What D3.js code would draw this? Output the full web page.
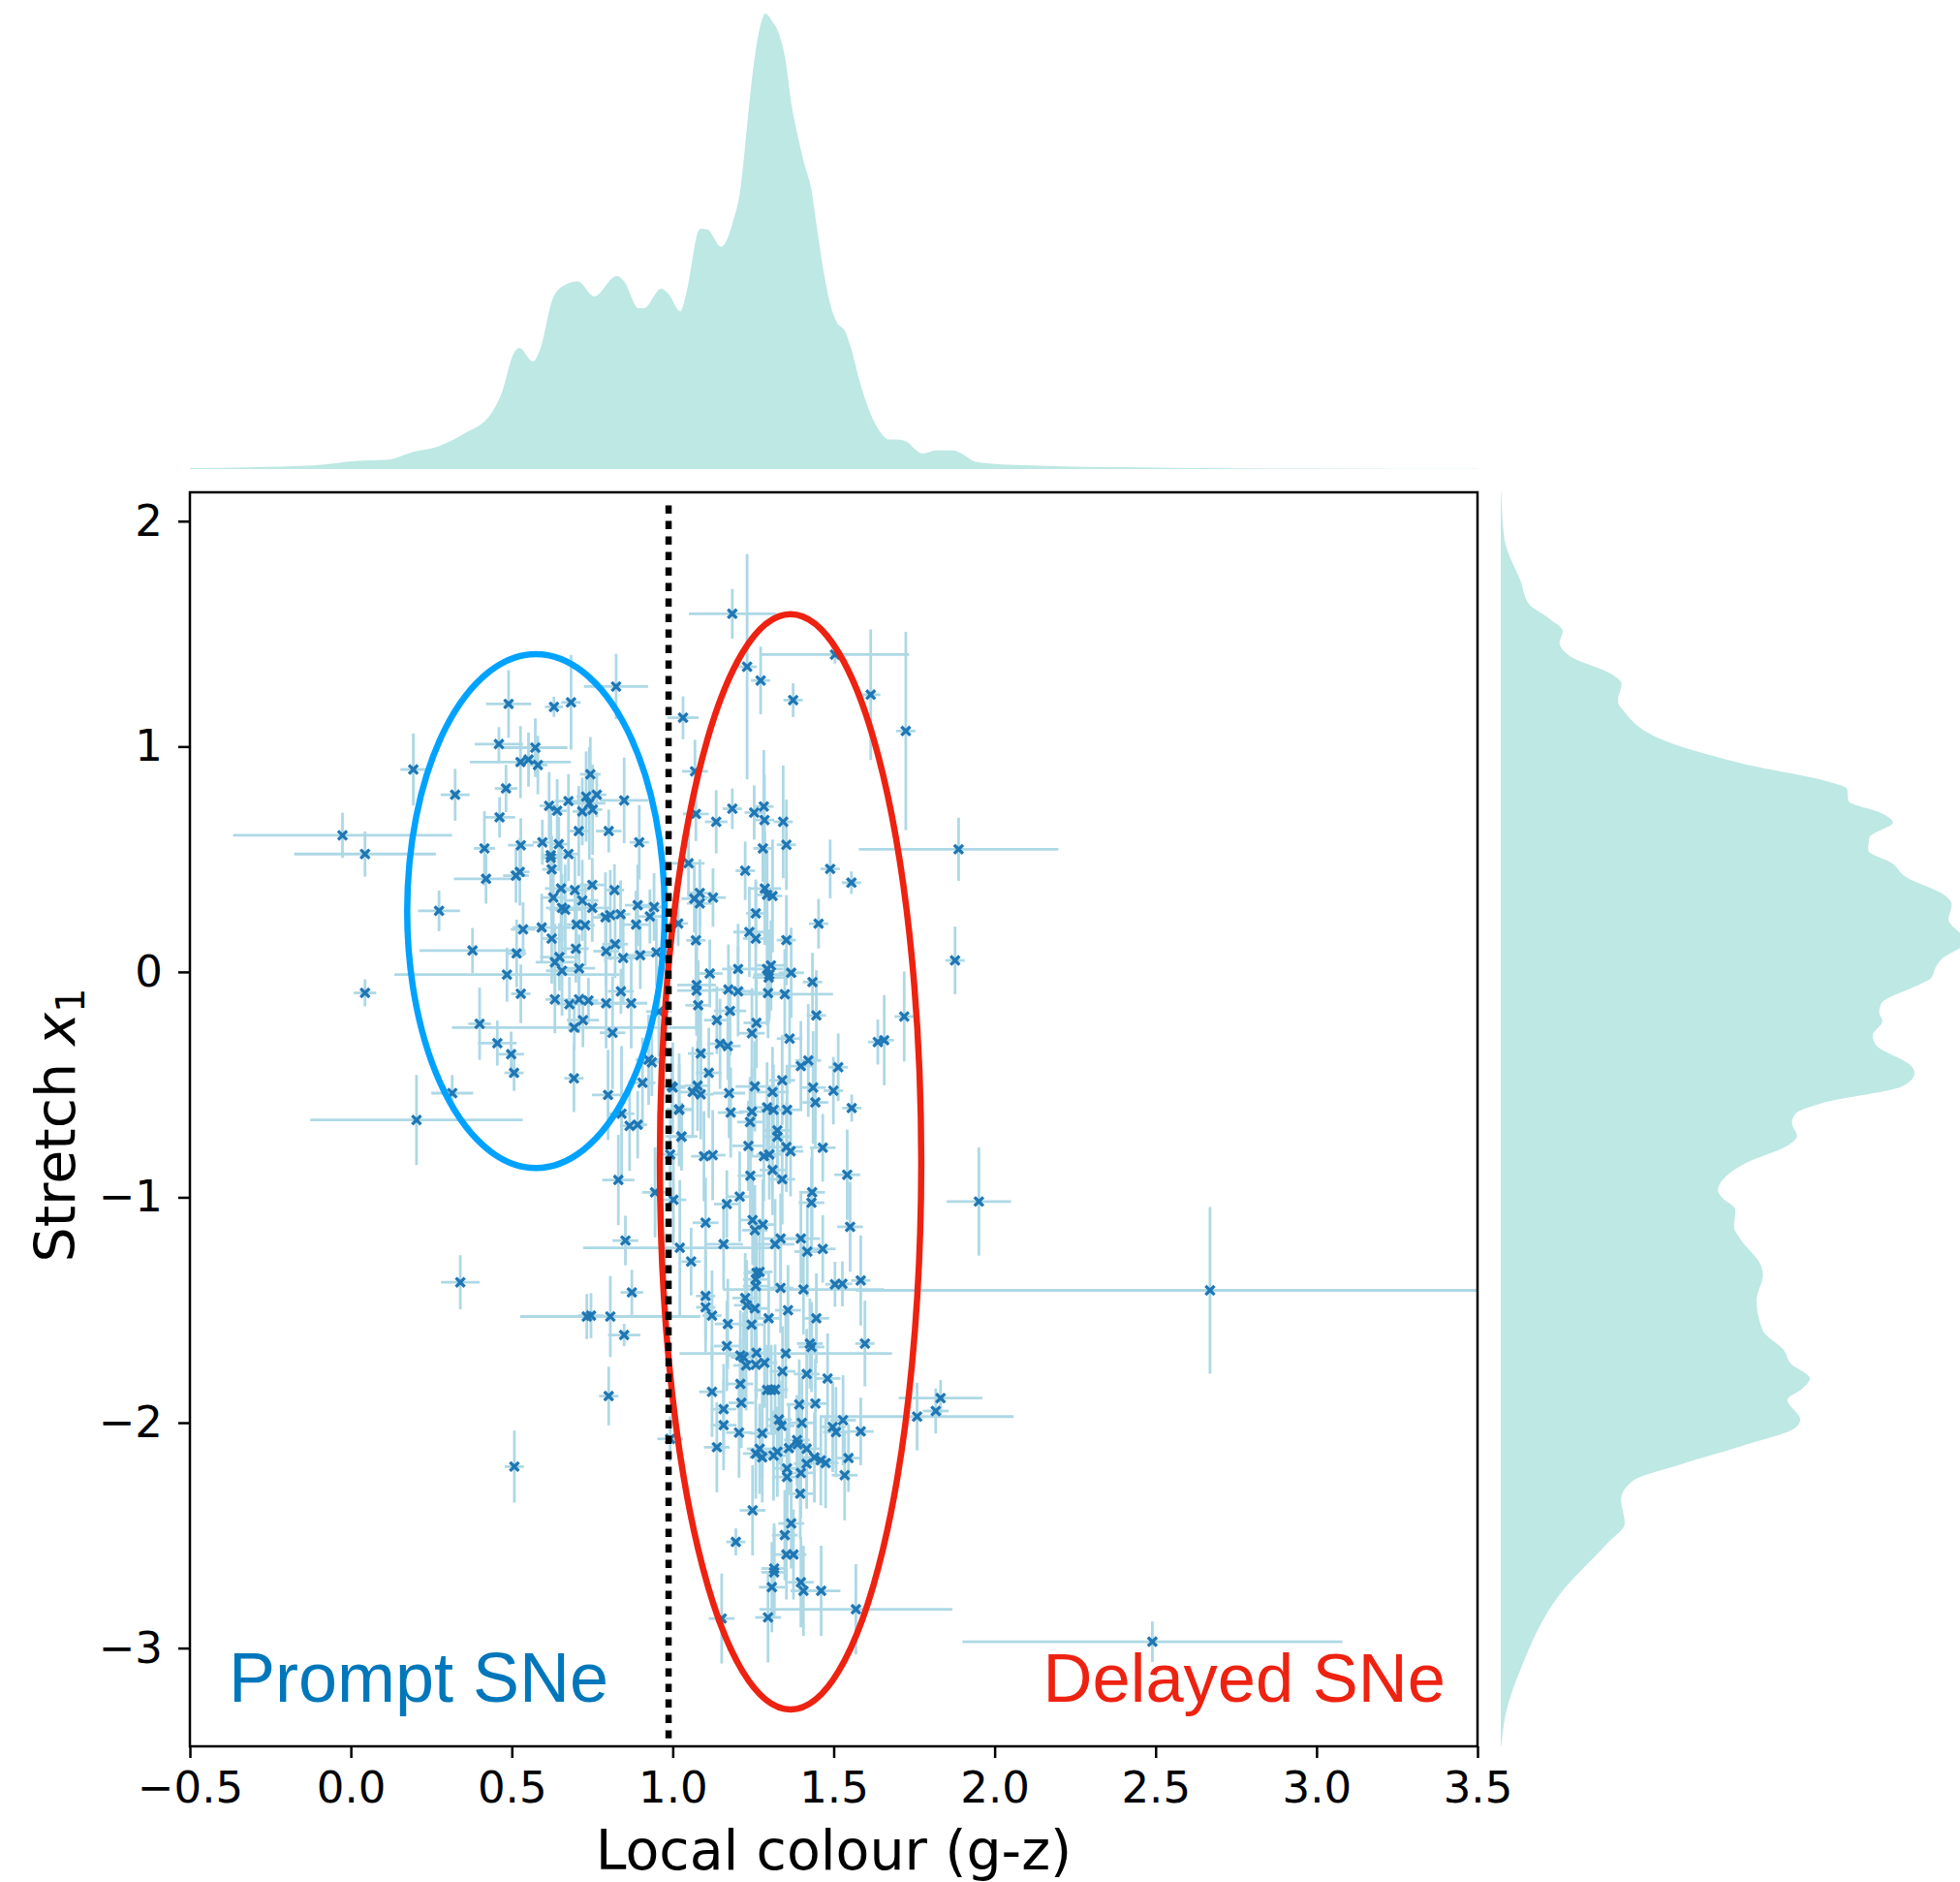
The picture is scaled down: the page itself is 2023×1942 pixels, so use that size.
<!DOCTYPE html>
<html>
<head>
<meta charset="utf-8">
<script src="https://cdn.jsdelivr.net/npm/d3@7"></script>
<style>
  html, body { margin: 0; padding: 0; background: #ffffff; }
  svg { display: block; }
</style>
</head>
<body>
<svg id="chart" width="2023" height="1942"></svg>
<script>
// ---------------- data ----------------
// each point: [local colour, colour error, stretch x1, stretch error]
const pointsPromptRegion = [
  [0.824,0.10,1.266,0.145],[0.490,0.07,1.189,0.15],[0.631,0.028,1.176,0.045],[0.684,0.03,1.196,0.21],
  [0.460,0.075,1.011,0.075],[0.573,0.10,0.995,0.13],[0.527,0.157,0.931,0.16],[0.552,0.03,0.942,0.12],
  [0.581,0.03,0.918,0.13],[0.194,0.04,0.898,0.16],[0.324,0.045,0.786,0.115],[0.482,0.035,0.814,0.105],
  [0.462,0.048,0.686,0.09],[0.744,0.032,0.877,0.165],[0.616,0.03,0.737,0.15],[0.641,0.03,0.715,0.14],
  [0.676,0.043,0.758,0.12],[0.731,0.03,0.778,0.2],[0.764,0.03,0.786,0.1],[0.741,0.05,0.748,0.25],
  [0.751,0.03,0.720,0.2],[0.719,0.03,0.712,0.15],[0.849,0.075,0.761,0.19],[0.708,0.03,0.625,0.2],
  [0.801,0.04,0.625,0.095],[0.896,0.03,0.575,0.165],[0.415,0.033,0.548,0.165],[0.528,0.04,0.562,0.12],
  [0.595,0.03,0.575,0.1],[0.646,0.03,0.567,0.12],[0.621,0.03,0.518,0.15],[0.621,0.03,0.506,0.2],
  [0.676,0.03,0.523,0.12],[0.624,0.03,0.455,0.15],[0.420,0.10,0.413,0.11],[0.513,0.04,0.427,0.12],
  [0.525,0.03,0.444,0.15],[0.653,0.05,0.370,0.18],[0.696,0.04,0.363,0.15],[0.629,0.04,0.330,0.16],
  [0.719,0.05,0.317,0.18],[0.750,0.04,0.386,0.12],[0.819,0.03,0.363,0.115],[0.274,0.065,0.271,0.09],
  [0.656,0.05,0.284,0.15],[0.666,0.05,0.276,0.2],[0.750,0.06,0.284,0.15],[0.791,0.04,0.242,0.2],
  [0.806,0.04,0.252,0.2],[0.838,0.03,0.256,0.15],[0.891,0.04,0.296,0.18],[0.942,0.04,0.288,0.15],
  [0.929,0.04,0.246,0.12],[0.886,0.04,0.210,0.15],[0.535,0.038,0.189,0.12],[0.593,0.09,0.197,0.15],
  [0.701,0.03,0.210,0.15],[0.728,0.03,0.207,0.18],[0.624,0.03,0.148,0.2],[0.378,0.165,0.095,0.1],
  [0.515,0.03,0.082,0.15],[0.699,0.04,0.103,0.15],[0.793,0.04,0.092,0.15],[0.821,0.04,0.123,0.15],
  [0.648,0.06,0.066,0.15],[0.634,0.06,0.043,0.17],[0.846,0.05,0.062,0.2],[0.899,0.04,0.074,0.15],
  [0.949,0.05,0.087,0.15],[0.485,0.35,-0.012,0.12],[0.656,0.05,0.005,0.2],[0.709,0.05,0.016,0.15],
  [0.528,0.03,-0.097,0.13],[0.634,0.03,-0.122,0.15],[0.679,0.04,-0.143,0.12],[0.709,0.04,-0.122,0.15],
  [0.738,0.03,-0.127,0.1],[0.793,0.06,-0.139,0.2],[0.839,0.04,-0.086,0.1],[0.871,0.05,-0.139,0.2],
  [0.400,0.035,-0.230,0.16],[0.721,0.05,-0.214,0.12],[0.694,0.38,-0.247,0.1],[0.813,0.04,-0.270,0.25],
  [0.455,0.06,-0.316,0.1],[0.498,0.04,-0.365,0.1],[0.507,0.03,-0.448,0.08],[0.693,0.03,-0.472,0.15],
  [0.315,0.065,-0.538,0.08],[0.799,0.05,-0.546,0.2],[0.204,0.33,-0.657,0.2],[0.925,0.04,-0.390,0.2],
  [0.935,0.04,-0.401,0.15],[0.906,0.04,-0.492,0.2],[0.841,0.04,-0.629,0.3],[0.866,0.03,-0.683,0.2],
  [0.891,0.03,-0.678,0.15],[0.957,0.04,-0.176,0.2],[1.000,0.04,-0.513,0.2],[1.020,0.04,-0.612,0.25],
  [1.027,0.05,-0.730,0.15],[0.992,0.04,-0.810,0.2],
  [-0.026,0.34,0.606,0.1],[0.044,0.22,0.523,0.1],[0.044,0.035,-0.093,0.06]
];
const pointsUpperDelayed = [
  [1.032,0.048,1.128,0.095],
  [1.185,0.135,1.589,0.11],[1.231,0.03,1.354,0.5],[1.504,0.23,1.408,0.04],[1.273,0.03,1.293,0.15],
  [1.374,0.03,1.206,0.075],[1.615,0.03,1.230,0.29],[1.724,0.03,1.069,0.44],[1.069,0.04,0.890,0.14],
  [1.072,0.04,0.701,0.12],[1.135,0.035,0.666,0.14],[1.185,0.03,0.724,0.09],[1.253,0.03,0.707,0.12],
  [1.283,0.03,0.734,0.25],[1.285,0.03,0.674,0.2],[1.343,0.03,0.666,0.25],[1.353,0.03,0.564,0.2],
  [1.280,0.03,0.548,0.15],[1.049,0.05,0.482,0.15],[1.225,0.03,0.449,0.13],[1.489,0.03,0.457,0.13],
  [1.555,0.03,0.396,0.05],[1.888,0.31,0.544,0.14],[1.286,0.05,0.370,0.25],[1.293,0.03,0.342,0.2],
  [1.310,0.03,0.337,0.25],[1.084,0.04,0.350,0.15],[1.067,0.04,0.325,0.15],[1.084,0.04,0.304,0.15],
  [1.125,0.04,0.330,0.13],[1.258,0.03,0.260,0.15],[1.453,0.03,0.214,0.11],[1.017,0.03,0.215,0.1],
  [1.238,0.05,0.177,0.2],[1.258,0.04,0.148,0.25],[1.072,0.03,0.140,0.2],[1.353,0.03,0.141,0.2],
  [1.877,0.03,0.051,0.15],[1.203,0.05,0.013,0.2],[1.115,0.04,-0.007,0.15],[1.293,0.05,0.013,0.25],
  [1.300,0.05,-0.012,0.2],[1.305,0.05,0.029,0.2],[1.298,0.05,-0.025,0.2],[1.368,0.04,-0.004,0.2],
  [1.074,0.06,-0.058,0.2],[1.074,0.06,-0.083,0.2],[1.173,0.05,-0.078,0.2],[1.203,0.05,-0.086,0.2],
  [1.296,0.06,-0.094,0.2],[1.348,0.15,-0.099,0.2],[1.434,0.03,-0.045,0.13],[1.079,0.04,-0.148,0.2],
  [1.178,0.05,-0.173,0.2],[1.446,0.03,-0.193,0.2],[1.719,0.03,-0.198,0.2],[1.137,0.04,-0.214,0.15],
  [1.260,0.04,-0.226,0.2],[1.246,0.04,-0.272,0.2],[1.363,0.04,-0.296,0.2],[1.637,0.03,-0.311,0.1],
  [1.657,0.03,-0.303,0.2],[1.147,0.04,-0.319,0.2],[1.171,0.04,-0.329,0.15],[1.087,0.04,-0.362,0.2],
  [1.398,0.04,-0.418,0.2],[1.421,0.04,-0.393,0.25],[1.514,0.03,-0.423,0.15],[1.112,0.04,-0.448,0.2],
  [1.340,0.04,-0.481,0.2],[0.997,0.04,-0.508,0.15],[1.077,0.04,-0.505,0.2],[1.062,0.04,-0.533,0.2],
  [1.087,0.04,-0.543,0.2],[1.175,0.05,-0.538,0.2],[1.255,0.06,-0.508,0.2],[1.310,0.05,-0.533,0.2],
  [1.436,0.04,-0.513,0.25],[1.499,0.03,-0.527,0.15],[1.443,0.04,-0.579,0.2],[1.556,0.03,-0.604,0.06],
  [1.020,0.04,-0.609,0.2],[1.180,0.04,-0.624,0.2],[1.246,0.04,-0.620,0.2],[1.293,0.04,-0.601,0.2],
  [1.313,0.04,-0.612,0.2],[1.355,0.04,-0.612,0.2],[1.240,0.04,-0.666,0.2],[1.027,0.04,-0.731,0.15],
  [1.325,0.04,-0.703,0.2],[1.325,0.04,-0.731,0.2],[1.235,0.05,-0.772,0.2],[1.353,0.05,-0.777,0.2],
  [1.366,0.04,-0.796,0.2],[1.466,0.04,-0.780,0.15],[1.097,0.04,-0.818,0.2],[1.124,0.04,-0.813,0.2],
  [1.283,0.04,-0.818,0.2],[1.300,0.04,-0.810,0.2]
];
const pointsLowerLeft = [
  [0.831,0.05,-0.923,0.2],[0.945,0.04,-0.978,0.2],[1.002,0.04,-1.011,0.2],[0.853,0.04,-1.192,0.11],
  [1.022,0.30,-1.224,0.3],[0.340,0.06,-1.377,0.12],[0.873,0.035,-1.422,0.1],[0.733,0.08,-1.529,0.1],
  [0.746,0.04,-1.525,0.1],[0.806,0.28,-1.529,0.18],[0.849,0.05,-1.611,0.05],[0.801,0.03,-1.882,0.13],
  [0.508,0.03,-2.195,0.16],[0.992,0.04,-2.072,0.1]
];
const pointsLowerDelayed = [
  [1.542,0.04,-0.900,0.2],[1.241,0.04,-0.904,0.2],[1.310,0.04,-0.879,0.2],[1.340,0.04,-0.920,0.2],
  [1.208,0.04,-0.997,0.2],[1.168,0.04,-1.030,0.15],[1.433,0.04,-0.978,0.2],[1.431,0.04,-1.024,0.2],
  [1.102,0.04,-1.113,0.2],[1.248,0.04,-1.101,0.2],[1.255,0.04,-1.146,0.2],[1.280,0.04,-1.121,0.2],
  [1.551,0.04,-1.131,0.2],[1.158,0.06,-1.208,0.2],[1.318,0.06,-1.208,0.2],[1.335,0.06,-1.183,0.2],
  [1.398,0.06,-1.183,0.2],[1.418,0.04,-1.241,0.2],[1.466,0.04,-1.229,0.15],[1.057,0.03,-1.285,0.15],
  [1.260,0.04,-1.335,0.2],[1.270,0.04,-1.331,0.2],[1.258,0.04,-1.364,0.2],[1.258,0.04,-1.394,0.2],
  [1.504,0.03,-1.386,0.1],[1.527,0.03,-1.384,0.1],[1.584,0.03,-1.369,0.2],[1.335,0.04,-1.402,0.2],
  [1.406,0.25,-1.409,0.2],[1.102,0.03,-1.438,0.2],[1.102,0.03,-1.488,0.2],[1.225,0.04,-1.447,0.2],
  [1.230,0.04,-1.479,0.2],[1.255,0.04,-1.493,0.2],[1.122,0.03,-1.525,0.2],[1.298,0.04,-1.537,0.2],
  [1.358,0.04,-1.501,0.2],[1.446,0.04,-1.537,0.2],[1.171,0.04,-1.562,0.2],[1.245,0.04,-1.565,0.2],
  [1.168,0.04,-1.660,0.2],[1.426,0.04,-1.649,0.2],[1.431,0.04,-1.664,0.2],[1.597,0.03,-1.649,0.19],
  [1.210,0.04,-1.702,0.2],[1.220,0.04,-1.710,0.2],[1.228,0.04,-1.746,0.2],[1.260,0.04,-1.690,0.2],
  [1.258,0.04,-1.743,0.2],[1.285,0.04,-1.734,0.2],[1.351,0.33,-1.693,0.2],[1.341,0.04,-1.772,0.2],
  [1.416,0.04,-1.784,0.2],[1.481,0.04,-1.804,0.2],[1.122,0.04,-1.863,0.2],[1.210,0.04,-1.828,0.2],
  [1.293,0.04,-1.855,0.2],[1.306,0.04,-1.855,0.2],[1.318,0.04,-1.853,0.2],[1.213,0.04,-1.912,0.2],
  [1.393,0.04,-1.919,0.2],[1.443,0.04,-1.915,0.2],[1.832,0.13,-1.891,0.08],[1.817,0.04,-1.948,0.1],
  [1.759,0.30,-1.973,0.15],[1.158,0.04,-1.940,0.2],[1.158,0.04,-2.011,0.2],[1.206,0.04,-2.044,0.2],
  [1.278,0.04,-2.047,0.2],[1.330,0.04,-1.986,0.2],[1.338,0.04,-2.014,0.2],[1.401,0.04,-2.001,0.2],
  [1.529,0.04,-1.989,0.2],[1.497,0.04,-2.019,0.2],[1.507,0.04,-2.042,0.2],[1.584,0.04,-2.039,0.15],
  [1.137,0.04,-2.109,0.2],[1.258,0.04,-2.137,0.2],[1.270,0.04,-2.116,0.2],[1.278,0.04,-2.154,0.2],
  [1.313,0.04,-2.146,0.2],[1.325,0.04,-2.129,0.2],[1.361,0.04,-2.113,0.2],[1.386,0.04,-2.077,0.2],
  [1.388,0.04,-2.096,0.2],[1.416,0.04,-2.116,0.2],[1.416,0.04,-2.182,0.2],[1.440,0.04,-2.154,0.2],
  [1.460,0.04,-2.167,0.2],[1.475,0.04,-2.179,0.2],[1.546,0.04,-2.157,0.15],[1.534,0.04,-2.233,0.2],
  [1.355,0.04,-2.203,0.2],[1.355,0.04,-2.241,0.2],[1.398,0.04,-2.223,0.2],[1.396,0.04,-2.315,0.2],
  [1.248,0.04,-2.389,0.2],[1.368,0.04,-2.447,0.2],[1.348,0.04,-2.499,0.2],[1.196,0.03,-2.529,0.06],
  [1.353,0.04,-2.585,0.2],[1.375,0.04,-2.585,0.2],[1.315,0.04,-2.647,0.2],[1.315,0.04,-2.664,0.2],
  [1.308,0.04,-2.730,0.2],[1.398,0.04,-2.708,0.2],[1.406,0.04,-2.746,0.2],[1.461,0.06,-2.746,0.2],
  [1.569,0.30,-2.828,0.2],[1.296,0.04,-2.864,0.2],[1.152,0.04,-2.869,0.2]
];
const pointsRedOutliers = [
  [1.951,0.10,-1.019,0.24],[2.669,1.10,-1.413,0.37],[2.490,0.59,-2.972,0.09]
];

// marginal density of local colour (top panel): colour grid and relative density
const colourGrid = [-0.5,-0.116,0.022,0.108,0.195,0.264,0.350,0.437,0.471,0.506,0.523,0.566,0.589,0.627,0.653,
  0.705,0.756,0.826,0.848,0.894,0.910,0.964,0.986,1.024,1.040,1.085,1.107,1.150,1.170,1.186,1.211,1.223,
  1.249,1.271,1.288,1.308,1.330,1.349,1.370,1.390,1.409,1.430,1.447,1.470,1.490,1.511,1.534,1.551,1.586,
  1.620,1.646,1.672,1.698,1.729,1.750,1.776,1.819,1.871,1.897,1.940,1.974,2.161,2.380,3.0,3.5];
const colourDensity = [0.002,0.008,0.018,0.020,0.038,0.048,0.077,0.123,0.172,0.254,0.266,0.236,0.265,0.374,0.399,
  0.412,0.379,0.424,0.413,0.353,0.353,0.396,0.385,0.346,0.380,0.527,0.526,0.488,0.506,0.541,0.619,0.697,
  0.874,0.970,1.000,0.984,0.956,0.903,0.796,0.726,0.669,0.616,0.534,0.428,0.360,0.321,0.304,0.272,0.179,
  0.112,0.080,0.065,0.065,0.059,0.045,0.034,0.041,0.041,0.034,0.016,0.013,0.007,0.004,0.001,0.0005];

// marginal density of stretch (right panel)
const stretchGrid = [2.128,1.921,1.730,1.633,1.566,1.512,1.461,1.403,1.317,1.279,1.202,1.154,1.029,0.923,0.843,
  0.812,0.760,0.703,0.664,0.597,0.540,0.482,0.424,0.338,0.300,0.233,0.175,0.140,0.107,0.059,0.021,-0.027,
  -0.055,-0.142,-0.180,-0.219,-0.282,-0.324,-0.420,-0.449,-0.506,-0.583,-0.631,-0.670,-0.728,-0.767,-0.853,
  -0.969,-0.997,-1.055,-1.132,-1.180,-1.305,-1.343,-1.458,-1.592,-1.679,-1.736,-1.803,-1.852,-1.899,-1.986,
  -2.024,-2.101,-2.188,-2.255,-2.341,-2.447,-2.533,-2.763,-3.090,-3.281,-3.436];
const stretchDensity = [0.001,0.008,0.044,0.061,0.107,0.135,0.128,0.149,0.244,0.263,0.255,0.269,0.353,0.529,0.715,
  0.754,0.757,0.831,0.854,0.803,0.800,0.852,0.880,0.968,0.982,0.975,0.999,1.02,1.0,0.961,0.947,0.937,
  0.912,0.828,0.824,0.831,0.810,0.817,0.895,0.901,0.877,0.698,0.641,0.634,0.645,0.627,0.529,
  0.473,0.480,0.511,0.508,0.520,0.567,0.571,0.557,0.571,0.617,0.631,0.673,0.655,0.624,0.652,
  0.641,0.529,0.388,0.290,0.262,0.270,0.233,0.128,0.044,0.012,0.001];

const xTicks = [-0.5, 0.0, 0.5, 1.0, 1.5, 2.0, 2.5, 3.0, 3.5];
const yTicks = [-3, -2, -1, 0, 1, 2];

// region ellipses: [centre colour, centre stretch, half-width, half-height]
const promptEllipse = [0.575, 0.27, 0.400, 1.14];
const delayedEllipse = [1.366, -0.843, 0.406, 2.43];
const splitColour = 0.987;
const splitRange = [-3.40, 2.07];

// ---------------- drawing ----------------
const svg = d3.select("#chart");
const L = 196, R = 1525, T = 508, B = 1802;
const x = d3.scaleLinear().domain([-0.5, 3.5]).range([L, R]);
const y = d3.scaleLinear().domain([-3.436, 2.128]).range([B, T]);

const allPoints = [].concat(pointsPromptRegion, pointsUpperDelayed, pointsLowerLeft, pointsLowerDelayed, pointsRedOutliers)
  .map(p => ({c: p[0], ce: p[1], s: p[2], se: p[3]}));

// marginal top KDE
const topDen = d3.scaleLinear().domain([0, 1]).range([484, 14]);
const topData = colourGrid.map((g, i) => ({g, v: colourDensity[i]}));
svg.append("path")
  .datum(topData)
  .attr("fill", "#bde8e4")
  .attr("stroke", "none")
  .attr("d", d3.area().x(d => x(d.g)).y0(topDen(0)).y1(d => topDen(d.v)).curve(d3.curveMonotoneX));

// marginal right KDE
const rightDen = d3.scaleLinear().domain([0, 1]).range([1549, 2023]);
const rightData = stretchGrid.map((g, i) => ({g, v: stretchDensity[i]}));
svg.append("path")
  .datum(rightData)
  .attr("fill", "#bde8e4")
  .attr("stroke", "none")
  .attr("d", d3.area().y(d => y(d.g)).x0(rightDen(0)).x1(d => rightDen(d.v)).curve(d3.curveMonotoneY));

// clip for main axes
svg.append("defs").append("clipPath").attr("id", "clipMain")
  .append("rect").attr("x", L).attr("y", T).attr("width", R - L).attr("height", B - T);

const main = svg.append("g").attr("clip-path", "url(#clipMain)");

// error bars
const eb = main.append("g").attr("stroke", "#add8e6").attr("stroke-width", 2.8).attr("fill", "none");
eb.selectAll("line.h").data(allPoints).join("line").attr("class", "h")
  .attr("x1", d => x(d.c - d.ce)).attr("x2", d => x(d.c + d.ce))
  .attr("y1", d => y(d.s)).attr("y2", d => y(d.s));
eb.selectAll("line.v").data(allPoints).join("line").attr("class", "v")
  .attr("x1", d => x(d.c)).attr("x2", d => x(d.c))
  .attr("y1", d => y(d.s - d.se)).attr("y2", d => y(d.s + d.se));

// markers (filled X)
const xm = 3.4;
main.append("g").selectAll("path").data(allPoints).join("path")
  .attr("transform", d => `translate(${x(d.c)},${y(d.s)})`)
  .attr("d", `M${-xm},${-xm}L${xm},${xm}M${-xm},${xm}L${xm},${-xm}`)
  .attr("stroke", "#1f77b4").attr("stroke-width", 3.3).attr("stroke-linecap", "square");

// ellipses
function drawEllipse(e, color) {
  main.append("ellipse")
    .attr("cx", x(e[0])).attr("cy", y(e[1]))
    .attr("rx", x(e[0] + e[2]) - x(e[0]))
    .attr("ry", y(e[1]) - y(e[1] + e[3]))
    .attr("fill", "none").attr("stroke", color).attr("stroke-width", 6.5);
}
drawEllipse(promptEllipse, "#00a2ff");
drawEllipse(delayedEllipse, "#ee2211");

// dotted split line
main.append("line")
  .attr("x1", x(splitColour)).attr("x2", x(splitColour))
  .attr("y1", y(splitRange[1])).attr("y2", y(splitRange[0]))
  .attr("stroke", "#000").attr("stroke-width", 6.5).attr("stroke-dasharray", "8.5,7.5");

// texts
svg.append("text").attr("x", 236).attr("y", 1756)
  .attr("font-family", "Liberation Sans, Arial, Helvetica, sans-serif").attr("font-size", 72)
  .attr("fill", "#0077bb").text("Prompt SNe");
svg.append("text").attr("x", 1492).attr("y", 1756).attr("text-anchor", "end")
  .attr("font-family", "Liberation Sans, Arial, Helvetica, sans-serif").attr("font-size", 70.5)
  .attr("fill", "#ee2211").text("Delayed SNe");

// axes
const fmtX = d3.format(".1f");
const gx = svg.append("g").attr("transform", `translate(0,${B})`)
  .call(d3.axisBottom(x).tickValues(xTicks).tickFormat(fmtX).tickSize(12).tickPadding(14).tickSizeOuter(0));
const gy = svg.append("g").attr("transform", `translate(${L},0)`)
  .call(d3.axisLeft(y).tickValues(yTicks).tickFormat(d3.format("d")).tickSize(12).tickPadding(16).tickSizeOuter(0));
[gx, gy].forEach(g => {
  g.select(".domain").remove();
  g.selectAll(".tick line").attr("stroke", "#000").attr("stroke-width", 2.5);
  g.selectAll(".tick text").attr("font-family", "DejaVu Sans, sans-serif").attr("font-size", 45).attr("fill", "#000");
});

// axes frame
svg.append("rect").attr("x", L).attr("y", T).attr("width", R - L).attr("height", B - T)
  .attr("fill", "none").attr("stroke", "#000").attr("stroke-width", 2.5);

// axis labels
svg.append("text").attr("x", (L + R) / 2).attr("y", 1929).attr("text-anchor", "middle")
  .attr("font-family", "DejaVu Sans, sans-serif").attr("font-size", 57).attr("fill", "#000")
  .text("Local colour (g-z)");
const yl = svg.append("text").attr("transform", `translate(77,${(T + B) / 2 + 6}) rotate(-90)`)
  .attr("text-anchor", "middle")
  .attr("font-family", "DejaVu Sans, sans-serif").attr("font-size", 57).attr("fill", "#000");
yl.append("tspan").text("Stretch ");
yl.append("tspan").attr("font-style", "italic").text("x");
yl.append("tspan").attr("font-size", 40).attr("dy", 10).text("1");
</script>
</body>
</html>
